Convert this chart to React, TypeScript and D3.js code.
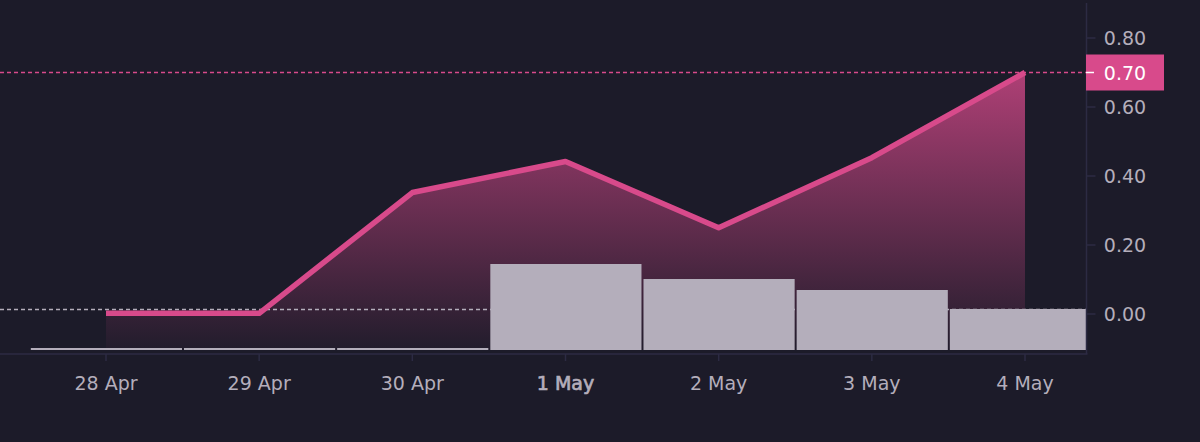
import React, { useEffect } from "react";
import * as d3 from "d3";

const dayLabels = ["28 Apr", "29 Apr", "30 Apr", "1 May", "2 May", "3 May", "4 May"];
const lineValues = [0.002, 0.002, 0.352, 0.442, 0.25, 0.453, 0.7];
const barValues = [0.02, 0.02, 0.02, 0.86, 0.71, 0.6, 0.41];
const yTicks = [0, 0.2, 0.4, 0.6, 0.8];
const boldLabel = "1 May";
const lastPrice = 0.7;
const lastBarLevel = 0.0145;

const BG = "#1c1b29";
const PINK = "#d84a8b";
const BAR = "#b4aebb";
const AXIS = "#2c2b43";
const TEXT = "#b4aebb";
const FONT = "'DejaVu Sans', sans-serif";

export default function App() {
  useEffect(() => {
    document.body.style.margin = "0";
    document.body.style.background = BG;
  }, []);

  const idx = dayLabels.map((_, i) => i);
  const x = d3.scaleLinear().domain([0, 6]).range([106, 1025]);
  const y = d3.scaleLinear().domain([0, 0.8]).range([314, 38]);
  const barY = d3.scaleLinear().domain([0, 1]).range([350, 250]);
  const bottom = 350;
  const right = 1086.5;
  const step = x(1) - x(0);

  const line = d3.line<number>().x((_, i) => x(i)).y((d) => y(d)).curve(d3.curveLinear);
  const area = d3.area<number>().x((_, i) => x(i)).y0(bottom).y1((d) => y(d)).curve(d3.curveLinear);

  return (
    <svg width={1200} height={442} style={{ display: "block", background: BG }} fontFamily={FONT}>
      <defs>
        <linearGradient id="fill" gradientUnits="userSpaceOnUse" x1={0} x2={0} y1={y(lastPrice)} y2={bottom}>
          <stop offset="0%" stopColor={PINK} stopOpacity={0.78} />
          <stop offset="100%" stopColor={PINK} stopOpacity={0.03} />
        </linearGradient>
        <clipPath id="pane">
          <rect x={0} y={0} width={right} height={442} />
        </clipPath>
      </defs>

      <path d={area(lineValues) ?? ""} fill="url(#fill)" />

      <g clipPath="url(#pane)">
        {barValues.map((v, i) => (
          <rect
            key={i}
            x={x(i) - step / 2 + 1.4}
            y={barY(v)}
            width={step - 2}
            height={bottom - barY(v)}
            fill={BAR}
          />
        ))}
      </g>

      <line x1={0} x2={right} y1={y(lastBarLevel) + 0.5} y2={y(lastBarLevel) + 0.5} stroke={BAR} strokeWidth={1.5} strokeDasharray="4 3" />
      <line x1={0} x2={right} y1={y(lastPrice)} y2={y(lastPrice)} stroke={PINK} strokeWidth={1.5} strokeDasharray="4 3" />

      <path d={line(lineValues) ?? ""} fill="none" stroke={PINK} strokeWidth={5.5} strokeLinejoin="round" />

      <line x1={right} x2={right} y1={3} y2={354} stroke={AXIS} strokeWidth={1.5} />
      <line x1={0} x2={right + 1} y1={354} y2={354} stroke={AXIS} strokeWidth={1.5} />

      {yTicks.map((t) => (
        <g key={t}>
          <line x1={right} x2={right + 9} y1={y(t)} y2={y(t)} stroke={AXIS} strokeWidth={1.5} />
          <text x={1125} y={y(t) + 7} textAnchor="middle" fontSize={19} fill={TEXT}>
            {t.toFixed(2)}
          </text>
        </g>
      ))}

      {idx.map((i) => {
        const isBold = dayLabels[i] === boldLabel;
        return (
          <g key={i}>
            <line x1={x(i)} x2={x(i)} y1={354} y2={361} stroke={AXIS} strokeWidth={1.5} />
            <text
              x={x(i)}
              y={390}
              textAnchor="middle"
              fontSize={19}
              fill={TEXT}
              stroke={isBold ? TEXT : "none"}
              strokeWidth={isBold ? 0.7 : 0}
            >
              {dayLabels[i]}
            </text>
          </g>
        );
      })}

      <rect x={1086} y={y(lastPrice) - 18} width={78} height={36} fill={PINK} />
      <line x1={1086} x2={1094} y1={y(lastPrice)} y2={y(lastPrice)} stroke="#ffffff" strokeWidth={1.5} />
      <text x={1125} y={y(lastPrice) + 7} textAnchor="middle" fontSize={19} fill="#ffffff">
        {lastPrice.toFixed(2)}
      </text>
    </svg>
  );
}
